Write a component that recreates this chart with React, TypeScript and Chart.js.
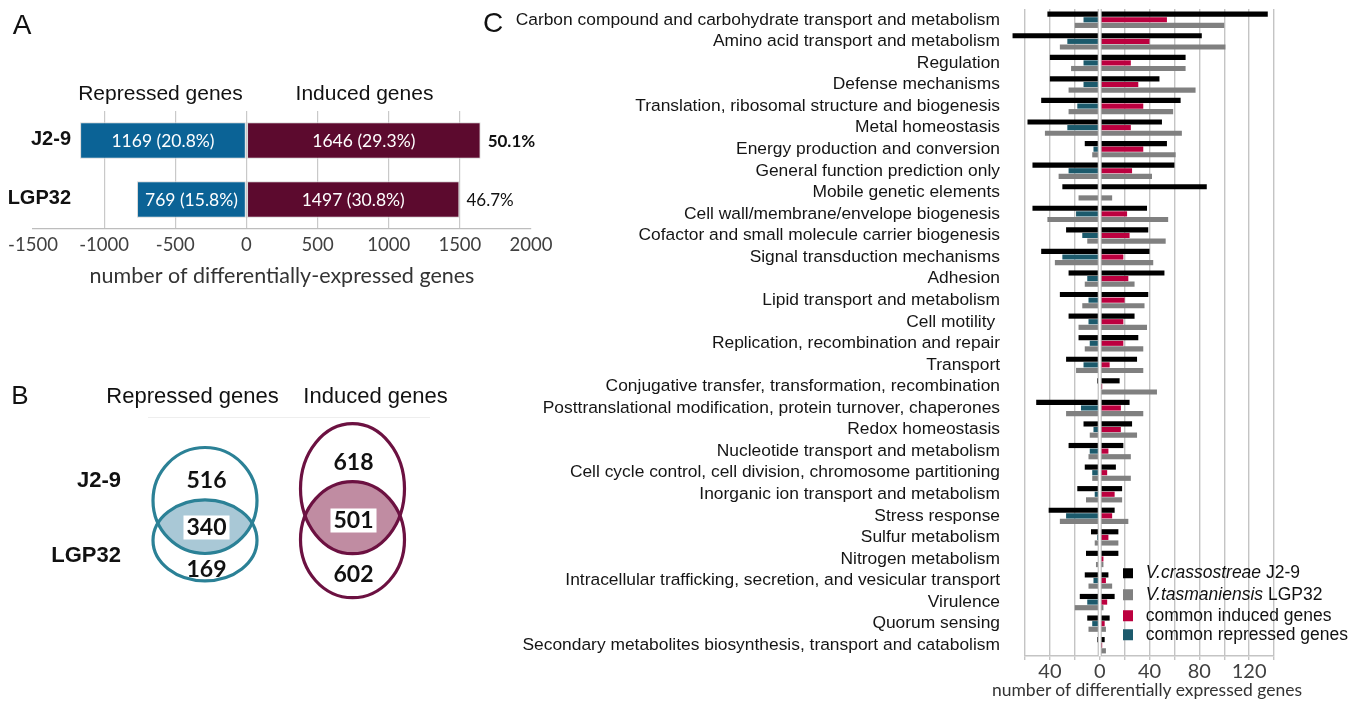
import React, { useEffect, useRef } from 'react';
import { Chart, registerables } from 'chart.js';
Chart.register(...registerables);

// ---------- Panel A ----------
const strainsA = ['J2-9', 'LGP32'];
const repressedA = [1169, 769];
const inducedA = [1646, 1497];
const repressedPctA = [20.8, 15.8];
const inducedPctA = [29.3, 30.8];
const totalPctA = [50.1, 46.7];

// ---------- Panel B (J2-9 only, shared, LGP32 only) ----------
const vennRepressed = [516, 340, 169];
const vennInduced = [618, 501, 602];

// ---------- Panel C ----------
const categoriesC = [
  'Carbon compound and carbohydrate transport and metabolism',
  'Amino acid transport and metabolism',
  'Regulation',
  'Defense mechanisms',
  'Translation, ribosomal structure and biogenesis',
  'Metal homeostasis',
  'Energy production and conversion',
  'General function prediction only',
  'Mobile genetic elements',
  'Cell wall/membrane/envelope biogenesis',
  'Cofactor and small molecule carrier biogenesis',
  'Signal transduction mechanisms',
  'Adhesion',
  'Lipid transport and metabolism',
  'Cell motility ',
  'Replication, recombination and repair',
  'Transport',
  'Conjugative transfer, transformation, recombination',
  'Posttranslational modification, protein turnover, chaperones',
  'Redox homeostasis',
  'Nucleotide transport and metabolism',
  'Cell cycle control, cell division, chromosome partitioning',
  'Inorganic ion transport and metabolism',
  'Stress response',
  'Sulfur metabolism',
  'Nitrogen metabolism',
  'Intracellular trafficking, secretion, and vesicular transport',
  'Virulence',
  'Quorum sensing',
  'Secondary metabolites biosynthesis, transport and catabolism',
];
const j29Induced = [135, 82, 69, 48, 65, 50, 54, 60, 86, 38, 39, 40, 52, 39, 28, 31, 30, 16, 24, 26, 19, 13, 18, 12, 15, 15, 7, 12, 8, 4];
const j29Repressed = [-42, -70, -40, -40, -47, -58, -12, -54, -30, -54, -27, -47, -25, -32, -25, -17, -27, -2, -51, -13, -25, -12, -18, -41, -7, -11, -12, -16, -10, -2];
const commonInduced = [54, 40, 25, 31, 35, 25, 35, 26, 0, 22, 24, 19, 23, 20, 19, 19, 8, 2, 17, 17, 7, 6, 12, 10, 7, 3, 5, 6, 4, 2];
const commonRepressed = [-13, -26, -13, -13, -18, -26, -5, -25, 0, -19, -14, -30, -10, -9, -9, -8, -13, 0, -15, -5, -8, -6, -4, -27, -2, -1, -5, -10, -6, 0];
const lgp32Induced = [100, 101, 69, 77, 59, 66, 61, 42, 10, 55, 53, 43, 28, 36, 38, 35, 35, 46, 35, 30, 25, 25, 18, 23, 15, 3, 10, 3, 5, 5];
const lgp32Repressed = [-20, -32, -23, -25, -25, -44, -6, -33, -17, -42, -10, -36, -12, -14, -17, -12, -19, -1, -27, -8, -9, -6, -11, -32, -4, -3, -9, -20, -9, -1];

const legendC = [
  { italic: 'V.crassostreae', rest: ' J2-9', color: '#000000' },
  { italic: 'V.tasmaniensis', rest: ' LGP32', color: '#808080' },
  { italic: '', rest: 'common induced genes', color: '#bc003f' },
  { italic: '', rest: 'common repressed genes', color: '#1c5a6c' },
];

const SANS = '"Liberation Sans", Arial, sans-serif';

function Txt(props: { x: number; y: number; size: number; bold?: boolean; align?: 'center' | 'left' | 'right'; children: React.ReactNode; color?: string; family?: string }) {
  const { x, y, size, bold, align = 'center', children, color = '#111', family = SANS } = props;
  const tx = align === 'center' ? '-50%' : align === 'right' ? '-100%' : '0';
  return (
    <div
      style={{
        position: 'absolute',
        left: x,
        top: y,
        transform: `translate(${tx}, -50%)`,
        fontFamily: family,
        fontSize: size,
        fontWeight: bold ? 'bold' : 'normal',
        lineHeight: 1,
        whiteSpace: 'nowrap',
        color,
      }}
    >
      {children}
    </div>
  );
}

export default function App() {
  const aRef = useRef<HTMLCanvasElement>(null);
  const bRef = useRef<HTMLCanvasElement>(null);
  const cRef = useRef<HTMLCanvasElement>(null);

  useEffect(() => {
    const charts: Chart[] = [];

    // ---------------- Panel A ----------------
    const aLabels = {
      id: 'aLabels',
      afterDatasetsDraw(chart: any) {
        const ctx = chart.ctx;
        const rep = chart.getDatasetMeta(0).data;
        const ind = chart.getDatasetMeta(1).data;
        ctx.save();
        ctx.textBaseline = 'middle';
        for (let i = 0; i < strainsA.length; i++) {
          const r = rep[i];
          const n = ind[i];
          ctx.fillStyle = '#ffffff';
          ctx.textAlign = 'center';
          ctx.font = '17.5px Lato';
          ctx.fillText(`${repressedA[i]} (${repressedPctA[i]}%)`, (r.x + r.base) / 2, r.y + 1);
          ctx.fillText(`${inducedA[i]} (${inducedPctA[i]}%)`, (n.x + n.base) / 2, n.y + 1);
          ctx.fillStyle = '#111';
          ctx.textAlign = 'left';
          ctx.font = (i === 0 ? 'bold ' : '') + '17px Lato';
          ctx.fillText(`${totalPctA[i]}%`, n.x + 7, n.y + 1);
          ctx.textAlign = 'right';
          ctx.font = 'bold 20px "Liberation Sans"';
          ctx.fillText(strainsA[i], chart.chartArea.left + 38, n.y - 1);
        }
        ctx.restore();
      },
    };
    if (aRef.current) {
      charts.push(
        new Chart(aRef.current, {
          type: 'bar',
          data: {
            labels: strainsA,
            datasets: [
              {
                label: 'Repressed genes',
                data: repressedA.map((v) => -v),
                backgroundColor: '#0b6396',
                borderColor: '#d8d8d8',
                borderWidth: 1,
                borderSkipped: false,
                barPercentage: 0.62,
                categoryPercentage: 1,
              },
              {
                label: 'Induced genes',
                data: inducedA,
                backgroundColor: '#5c0a2e',
                borderColor: '#d8d8d8',
                borderWidth: 1,
                borderSkipped: false,
                barPercentage: 0.62,
                categoryPercentage: 1,
              },
            ],
          },
          options: {
            indexAxis: 'y',
            animation: false,
            responsive: false,
            layout: { padding: { left: 33, right: 29, top: 111, bottom: 11 } },
            plugins: { legend: { display: false }, tooltip: { enabled: false } },
            scales: {
              x: {
                stacked: true,
                min: -1500,
                max: 2000,
                ticks: {
                  stepSize: 500,
                  font: { family: 'Lato', size: 18.5 },
                  color: '#404040',
                  padding: 5,
                  maxRotation: 0,
                  callback: (v: any) => String(v),
                },
                grid: {
                  drawTicks: false,
                  lineWidth: 1.2,
                  color: (c: any) => (c.tick && (c.tick.value === -1500 || c.tick.value === 2000) ? 'rgba(0,0,0,0)' : '#c9c9c9'),
                },
                border: { color: '#bdbdbd', width: 1.3 },
                title: {
                  display: true,
                  text: 'number of differentially-expressed genes',
                  font: { family: 'Lato', size: 21.5 },
                  color: '#333',
                  padding: 0,
                },
                afterFit: (s: any) => {
                  s.height = 60;
                },
              } as any,
              y: { stacked: true, display: false },
            },
          },
          plugins: [aLabels],
        })
      );
    }

    // ---------------- Panel B (Venn) ----------------
    const venn = {
      id: 'venn',
      afterDraw(chart: any) {
        const ctx = chart.ctx;
        const sets = [
          { counts: vennRepressed, stroke: '#2b8196', fill: '#a9c8d6', cx: 205, rx: 52, top: [120.5, 53], bot: [160.3, 40.5], ty: [100, 147, 189], tx: 206.5 },
          { counts: vennInduced, stroke: '#6c1141', fill: '#c08ca2', cx: 352.5, rx: 52, top: [108.7, 65], bot: [159.7, 58], ty: [81.7, 140, 194], tx: 353.5 },
        ];
        ctx.save();
        for (const s of sets) {
          ctx.save();
          ctx.beginPath();
          ctx.ellipse(s.cx, s.top[0], s.rx, s.top[1], 0, 0, Math.PI * 2);
          ctx.clip();
          ctx.beginPath();
          ctx.ellipse(s.cx, s.bot[0], s.rx, s.bot[1], 0, 0, Math.PI * 2);
          ctx.fillStyle = s.fill;
          ctx.fill();
          ctx.restore();
          ctx.lineWidth = 3.2;
          ctx.strokeStyle = s.stroke;
          ctx.beginPath();
          ctx.ellipse(s.cx, s.top[0], s.rx, s.top[1], 0, 0, Math.PI * 2);
          ctx.stroke();
          ctx.beginPath();
          ctx.ellipse(s.cx, s.bot[0], s.rx, s.bot[1], 0, 0, Math.PI * 2);
          ctx.stroke();
          ctx.font = 'bold 23px Lato';
          ctx.textAlign = 'center';
          ctx.textBaseline = 'middle';
          const w = ctx.measureText(String(s.counts[1])).width + 6;
          ctx.fillStyle = '#ffffff';
          ctx.fillRect(s.tx - w / 2, s.ty[1] - 11.5, w, 24);
          ctx.fillStyle = '#111';
          for (let k = 0; k < 3; k++) ctx.fillText(String(s.counts[k]), s.tx, s.ty[k] + 1);
        }
        ctx.strokeStyle = '#eeeeee';
        ctx.lineWidth = 1;
        ctx.beginPath();
        ctx.moveTo(148, 37.5);
        ctx.lineTo(430, 37.5);
        ctx.stroke();
        ctx.restore();
      },
    };
    if (bRef.current) {
      charts.push(
        new Chart(bRef.current, {
          type: 'scatter',
          data: { datasets: [] },
          options: {
            animation: false,
            responsive: false,
            plugins: { legend: { display: false }, tooltip: { enabled: false } },
            scales: { x: { display: false }, y: { display: false } },
          },
          plugins: [venn],
        })
      );
    }

    // ---------------- Panel C ----------------
    const zeroLine = {
      id: 'zeroLine',
      afterDatasetsDraw(chart: any) {
        const ctx = chart.ctx;
        const x0 = chart.scales.x.getPixelForValue(0);
        const { top, bottom } = chart.chartArea;
        ctx.save();
        ctx.strokeStyle = '#b4b4b4';
        ctx.lineWidth = 4;
        ctx.beginPath();
        ctx.moveTo(x0, top);
        ctx.lineTo(x0, bottom);
        ctx.stroke();
        ctx.strokeStyle = '#ffffff';
        ctx.lineWidth = 2;
        ctx.beginPath();
        ctx.moveTo(x0, top);
        ctx.lineTo(x0, bottom);
        ctx.stroke();
        ctx.restore();
      },
    };
    const mk = (label: string, data: number[], color: string, stack: string) => ({
      label,
      data,
      backgroundColor: color,
      stack,
      clip: false as any,
      borderWidth: 0,
      categoryPercentage: 0.78,
      barPercentage: 0.92,
    });
    if (cRef.current) {
      charts.push(
        new Chart(cRef.current, {
          type: 'bar',
          data: {
            labels: categoriesC,
            datasets: [
              mk('V.crassostreae J2-9 induced', j29Induced, '#000000', 'j'),
              mk('V.crassostreae J2-9 repressed', j29Repressed, '#000000', 'j'),
              mk('common induced genes', commonInduced, '#bc003f', 'c'),
              mk('common repressed genes', commonRepressed, '#1c5a6c', 'c'),
              mk('V.tasmaniensis LGP32 induced', lgp32Induced, '#808080', 'l'),
              mk('V.tasmaniensis LGP32 repressed', lgp32Repressed, '#808080', 'l'),
            ],
          },
          options: {
            indexAxis: 'y',
            animation: false,
            responsive: false,
            layout: { padding: { left: 0, right: 80, top: 9, bottom: 7 } },
            plugins: { legend: { display: false }, tooltip: { enabled: false } },
            scales: {
              x: {
                stacked: true,
                min: -60,
                max: 140,
                ticks: {
                  stepSize: 20,
                  autoSkip: false,
                  maxRotation: 0,
                  padding: 0,
                  font: { family: 'Lato', size: 20 },
                  color: '#404040',
                  callback: (v: any) => (Number(v) % 40 === 0 ? String(Math.abs(Number(v))) : ''),
                },
                grid: { color: '#c4c4c4', lineWidth: 1.4, tickLength: 4 },
                border: { color: '#c4c4c4', width: 1.4 },
                title: { display: false },
                afterFit: (s: any) => {
                  s.height = 44;
                },
              } as any,
              y: {
                stacked: true,
                grid: { display: false, drawTicks: false },
                border: { display: false },
                ticks: {
                  autoSkip: false,
                  padding: 25,
                  font: { family: 'Liberation Sans', size: 17.4 },
                  color: '#151515',
                },
                afterFit: (s: any) => {
                  s.width = 525;
                  s.paddingTop = 0;
                  s.paddingBottom = 0;
                },
              } as any,
            },
          },
          plugins: [zeroLine],
        })
      );
    }

    return () => charts.forEach((c) => c.destroy());
  }, []);

  return (
    <div style={{ position: 'fixed', left: 0, top: 0, width: 1354, height: 707, background: '#fff', overflow: 'hidden' }}>
      <canvas ref={aRef} width={560} height={300} style={{ position: 'absolute', left: 0, top: 0, width: 560, height: 300 }} />
      <canvas ref={bRef} width={480} height={240} style={{ position: 'absolute', left: 0, top: 380, width: 480, height: 240 }} />
      <canvas ref={cRef} width={854} height={707} style={{ position: 'absolute', left: 500, top: 0, width: 854, height: 707 }} />

      <Txt x={22} y={25} size={28}>A</Txt>
      <Txt x={20} y={395} size={26}>B</Txt>
      <Txt x={493} y={23} size={28}>C</Txt>

      <Txt x={160.5} y={92} size={21}>Repressed genes</Txt>
      <Txt x={364.5} y={92} size={21}>Induced genes</Txt>

      <Txt x={192.5} y={396} size={22}>Repressed genes</Txt>
      <Txt x={375.5} y={396} size={22}>Induced genes</Txt>
      <Txt x={121} y={480} size={22} bold align="right">J2-9</Txt>
      <Txt x={121} y={555} size={22} bold align="right">LGP32</Txt>

      <Txt x={1147} y={690} size={17.5} family="Lato" color="#333">number of differentially expressed genes</Txt>

      {legendC.map((item, i) => (
        <div
          key={i}
          style={{
            position: 'absolute',
            left: 1122.7,
            top: [573.3, 595, 615.7, 635][i],
            transform: 'translateY(-50%)',
            display: 'flex',
            alignItems: 'center',
            fontFamily: SANS,
            fontSize: 17.5,
            lineHeight: 1,
            whiteSpace: 'nowrap',
            color: '#111',
          }}
        >
          <span style={{ display: 'inline-block', width: 10.7, height: 10.7, background: item.color, marginRight: 12.3 }} />
          <span>
            {item.italic ? <i>{item.italic}</i> : null}
            {item.rest}
          </span>
        </div>
      ))}
    </div>
  );
}
